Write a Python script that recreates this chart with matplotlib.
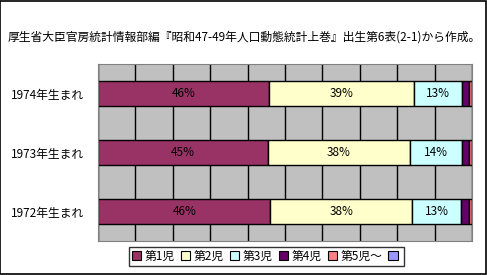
import matplotlib
matplotlib.use('Agg')
import matplotlib.pyplot as plt
from matplotlib.patches import Patch, Rectangle

plt.rcParams['font.family'] = ['Noto Sans CJK JP', 'DejaVu Sans']

title = '厚生省大臣官房統計情報部編『昭和47-49年人口動態統計上巻』出生第6表(2-1)から作成。'

# 下から順に
years = ['1972年生まれ', '1973年生まれ', '1974年生まれ']
series_names = ['第1児', '第2児', '第3児', '第4児', '第5児～', '']
colors = ['#993366', '#FFFFCC', '#CCFFFF', '#660066', '#FF8080', '#9999FF']

first = [46.1, 45.4, 45.8]
second = [37.9, 38.1, 38.6]
third = [13.1, 13.7, 13.0]
fourth = [2.1, 2.0, 1.8]
fifth = [0.7, 0.7, 0.7]
unknown = [0.1, 0.1, 0.1]

series = [first, second, third, fourth, fifth, unknown]

fig = plt.figure(figsize=(4.87, 2.75), dpi=100)
ax = fig.add_axes([0.2012, 0.1236, 0.768, 0.6436])
ax.set_facecolor('#C0C0C0')

# 縦グリッド
ax.set_xlim(0, 100)
ax.set_xticks(range(0, 101, 10))
ax.xaxis.grid(True, color='black', linewidth=1)
ax.set_axisbelow(True)
ax.tick_params(axis='x', length=0, labelbottom=False)

y = list(range(len(years)))
left = [0.0] * len(years)
for i, vals in enumerate(series):
    bars = ax.barh(y, vals, left=left, height=0.41, color=colors[i],
                   edgecolor='black', linewidth=1)
    if i < 3:
        for b, v in zip(bars, vals):
            ax.text(b.get_x() + b.get_width() / 2, b.get_y() + b.get_height() / 2,
                    '%.0f%%' % v, ha='center', va='center', fontsize=8.5)
    left = [l + v for l, v in zip(left, vals)]

ax.set_ylim(-0.5, 2.5)
ax.set_yticks(y)
ax.set_yticklabels(years, fontsize=8.5)
ax.tick_params(axis='y', length=0, pad=10)
for s in ax.spines.values():
    s.set_color('#808080')

fig.text(0.016, 0.865, title, fontsize=8.5, ha='left', va='center')

handles = [Patch(facecolor=c, edgecolor='black', linewidth=0.8) for c in colors]
leg = fig.legend(handles, series_names, loc='center', bbox_to_anchor=(0.5475, 0.068),
                 ncol=6, fontsize=8.5, frameon=True, fancybox=False,
                 handlelength=0.8, handleheight=0.8, handletextpad=0.3,
                 columnspacing=0.5, borderpad=0.25, borderaxespad=0)
leg.get_frame().set_edgecolor('black')
leg.get_frame().set_linewidth(1)

fig.patches.append(Rectangle((0.001, 0.002), 0.997, 0.996, transform=fig.transFigure,
                             fill=False, edgecolor='black', linewidth=1.2))

fig.savefig('out.png', dpi=100)
